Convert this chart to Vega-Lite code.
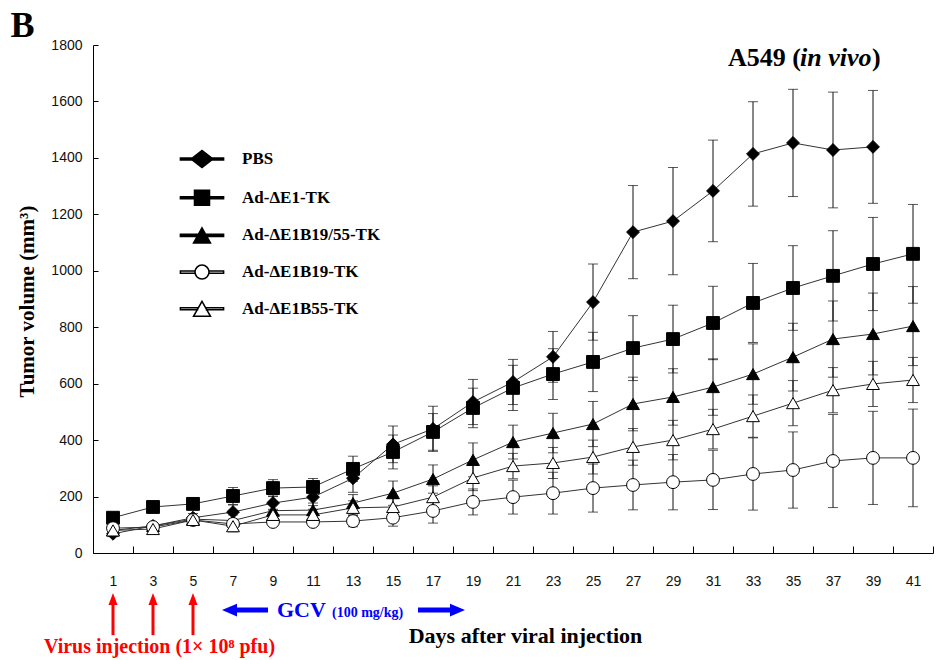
{
  "$schema": "https://vega.github.io/schema/vega-lite/v6.json",
  "width": 840,
  "height": 508,
  "autosize": {"type": "none"},
  "padding": {"left": 93, "top": 45, "right": 4, "bottom": 107},
  "background": "white",
  "config": {
    "view": {"stroke": null},
    "axis": {"grid": false, "domainColor": "black", "tickColor": "black", "tickWidth": 1, "labelFont": "Liberation Sans", "labelFontSize": 14, "labelColor": "#111111",
      "titleFont": "Liberation Serif", "titleFontWeight": "bold", "titleColor": "black", "labelOverlap": false, "labelFlush": false}
  },
  "resolve": {
    "axis": {"x": "independent", "y": "independent"},
    "scale": {"shape": "independent", "fill": "independent", "stroke": "independent"},
    "legend": {"shape": "independent", "fill": "independent", "stroke": "independent"}
  },
  "datasets": {
    "main": [
      {"d":1,"g":"PBS","v":68,"lo":58,"hi":78},{"d":3,"g":"PBS","v":96,"lo":84,"hi":108},{"d":5,"g":"PBS","v":125,"lo":110,"hi":140},{"d":7,"g":"PBS","v":145,"lo":120,"hi":170},{"d":9,"g":"PBS","v":177,"lo":152,"hi":202},{"d":11,"g":"PBS","v":198,"lo":168,"hi":228},{"d":13,"g":"PBS","v":265,"lo":215,"hi":315},{"d":15,"g":"PBS","v":385,"lo":320,"hi":450},{"d":17,"g":"PBS","v":440,"lo":360,"hi":520},{"d":19,"g":"PBS","v":535,"lo":455,"hi":615},{"d":21,"g":"PBS","v":606,"lo":526,"hi":686},{"d":23,"g":"PBS","v":695,"lo":605,"hi":785},{"d":25,"g":"PBS","v":889,"lo":754,"hi":1024},{"d":27,"g":"PBS","v":1137,"lo":972,"hi":1302},{"d":29,"g":"PBS","v":1176,"lo":986,"hi":1366},{"d":31,"g":"PBS","v":1283,"lo":1103,"hi":1463},{"d":33,"g":"PBS","v":1414,"lo":1229,"hi":1599},{"d":35,"g":"PBS","v":1453,"lo":1263,"hi":1643},{"d":37,"g":"PBS","v":1428,"lo":1223,"hi":1633},{"d":39,"g":"PBS","v":1439,"lo":1239,"hi":1639},
      {"d":1,"g":"Ad-ΔE1-TK","v":125,"lo":113,"hi":137},{"d":3,"g":"Ad-ΔE1-TK","v":163,"lo":151,"hi":175},{"d":5,"g":"Ad-ΔE1-TK","v":174,"lo":159,"hi":189},{"d":7,"g":"Ad-ΔE1-TK","v":202,"lo":172,"hi":232},{"d":9,"g":"Ad-ΔE1-TK","v":230,"lo":200,"hi":260},{"d":11,"g":"Ad-ΔE1-TK","v":234,"lo":204,"hi":264},{"d":13,"g":"Ad-ΔE1-TK","v":298,"lo":253,"hi":343},{"d":15,"g":"Ad-ΔE1-TK","v":358,"lo":298,"hi":418},{"d":17,"g":"Ad-ΔE1-TK","v":429,"lo":364,"hi":494},{"d":19,"g":"Ad-ΔE1-TK","v":514,"lo":444,"hi":584},{"d":21,"g":"Ad-ΔE1-TK","v":585,"lo":505,"hi":665},{"d":23,"g":"Ad-ΔE1-TK","v":634,"lo":544,"hi":724},{"d":25,"g":"Ad-ΔE1-TK","v":677,"lo":572,"hi":782},{"d":27,"g":"Ad-ΔE1-TK","v":726,"lo":611,"hi":841},{"d":29,"g":"Ad-ΔE1-TK","v":758,"lo":638,"hi":878},{"d":31,"g":"Ad-ΔE1-TK","v":815,"lo":685,"hi":945},{"d":33,"g":"Ad-ΔE1-TK","v":886,"lo":746,"hi":1026},{"d":35,"g":"Ad-ΔE1-TK","v":939,"lo":789,"hi":1089},{"d":37,"g":"Ad-ΔE1-TK","v":982,"lo":822,"hi":1142},{"d":39,"g":"Ad-ΔE1-TK","v":1024,"lo":859,"hi":1189},{"d":41,"g":"Ad-ΔE1-TK","v":1060,"lo":885,"hi":1235},
      {"d":1,"g":"Ad-ΔE1B19/55-TK","v":80,"lo":70,"hi":90},{"d":3,"g":"Ad-ΔE1B19/55-TK","v":96,"lo":84,"hi":108},{"d":5,"g":"Ad-ΔE1B19/55-TK","v":120,"lo":108,"hi":132},{"d":7,"g":"Ad-ΔE1B19/55-TK","v":115,"lo":95,"hi":135},{"d":9,"g":"Ad-ΔE1B19/55-TK","v":150,"lo":125,"hi":175},{"d":11,"g":"Ad-ΔE1B19/55-TK","v":152,"lo":127,"hi":177},{"d":13,"g":"Ad-ΔE1B19/55-TK","v":177,"lo":147,"hi":207},{"d":15,"g":"Ad-ΔE1B19/55-TK","v":212,"lo":169,"hi":255},{"d":17,"g":"Ad-ΔE1B19/55-TK","v":262,"lo":212,"hi":312},{"d":19,"g":"Ad-ΔE1B19/55-TK","v":330,"lo":270,"hi":390},{"d":21,"g":"Ad-ΔE1B19/55-TK","v":393,"lo":333,"hi":453},{"d":23,"g":"Ad-ΔE1B19/55-TK","v":425,"lo":355,"hi":495},{"d":25,"g":"Ad-ΔE1B19/55-TK","v":457,"lo":377,"hi":537},{"d":27,"g":"Ad-ΔE1B19/55-TK","v":528,"lo":433,"hi":623},{"d":29,"g":"Ad-ΔE1B19/55-TK","v":553,"lo":453,"hi":653},{"d":31,"g":"Ad-ΔE1B19/55-TK","v":588,"lo":488,"hi":688},{"d":33,"g":"Ad-ΔE1B19/55-TK","v":634,"lo":527,"hi":741},{"d":35,"g":"Ad-ΔE1B19/55-TK","v":694,"lo":574,"hi":814},{"d":37,"g":"Ad-ΔE1B19/55-TK","v":758,"lo":623,"hi":893},{"d":39,"g":"Ad-ΔE1B19/55-TK","v":776,"lo":631,"hi":921},{"d":41,"g":"Ad-ΔE1B19/55-TK","v":804,"lo":664,"hi":944},
      {"d":1,"g":"Ad-ΔE1B19-TK","v":88,"lo":78,"hi":98},{"d":3,"g":"Ad-ΔE1B19-TK","v":92,"lo":82,"hi":102},{"d":5,"g":"Ad-ΔE1B19-TK","v":117,"lo":105,"hi":129},{"d":7,"g":"Ad-ΔE1B19-TK","v":103,"lo":91,"hi":115},{"d":9,"g":"Ad-ΔE1B19-TK","v":110,"lo":95,"hi":125},{"d":11,"g":"Ad-ΔE1B19-TK","v":110,"lo":95,"hi":125},{"d":13,"g":"Ad-ΔE1B19-TK","v":113,"lo":93,"hi":133},{"d":15,"g":"Ad-ΔE1B19-TK","v":125,"lo":95,"hi":155},{"d":17,"g":"Ad-ΔE1B19-TK","v":149,"lo":106,"hi":192},{"d":19,"g":"Ad-ΔE1B19-TK","v":181,"lo":135,"hi":227},{"d":21,"g":"Ad-ΔE1B19-TK","v":198,"lo":138,"hi":258},{"d":23,"g":"Ad-ΔE1B19-TK","v":212,"lo":138,"hi":286},{"d":25,"g":"Ad-ΔE1B19-TK","v":230,"lo":145,"hi":315},{"d":27,"g":"Ad-ΔE1B19-TK","v":241,"lo":153,"hi":329},{"d":29,"g":"Ad-ΔE1B19-TK","v":251,"lo":153,"hi":349},{"d":31,"g":"Ad-ΔE1B19-TK","v":259,"lo":154,"hi":364},{"d":33,"g":"Ad-ΔE1B19-TK","v":280,"lo":152,"hi":408},{"d":35,"g":"Ad-ΔE1B19-TK","v":294,"lo":159,"hi":429},{"d":37,"g":"Ad-ΔE1B19-TK","v":326,"lo":161,"hi":491},{"d":39,"g":"Ad-ΔE1B19-TK","v":337,"lo":172,"hi":502},{"d":41,"g":"Ad-ΔE1B19-TK","v":337,"lo":164,"hi":510},
      {"d":1,"g":"Ad-ΔE1B55-TK","v":80,"lo":70,"hi":90},{"d":3,"g":"Ad-ΔE1B55-TK","v":85,"lo":70,"hi":100},{"d":5,"g":"Ad-ΔE1B55-TK","v":117,"lo":105,"hi":129},{"d":7,"g":"Ad-ΔE1B55-TK","v":95,"lo":75,"hi":115},{"d":9,"g":"Ad-ΔE1B55-TK","v":135,"lo":115,"hi":155},{"d":11,"g":"Ad-ΔE1B55-TK","v":135,"lo":115,"hi":155},{"d":13,"g":"Ad-ΔE1B55-TK","v":160,"lo":135,"hi":185},{"d":15,"g":"Ad-ΔE1B55-TK","v":163,"lo":133,"hi":193},{"d":17,"g":"Ad-ΔE1B55-TK","v":198,"lo":158,"hi":238},{"d":19,"g":"Ad-ΔE1B55-TK","v":266,"lo":221,"hi":311},{"d":21,"g":"Ad-ΔE1B55-TK","v":308,"lo":263,"hi":353},{"d":23,"g":"Ad-ΔE1B55-TK","v":319,"lo":264,"hi":374},{"d":25,"g":"Ad-ΔE1B55-TK","v":340,"lo":280,"hi":400},{"d":27,"g":"Ad-ΔE1B55-TK","v":376,"lo":311,"hi":441},{"d":29,"g":"Ad-ΔE1B55-TK","v":400,"lo":330,"hi":470},{"d":31,"g":"Ad-ΔE1B55-TK","v":439,"lo":369,"hi":509},{"d":33,"g":"Ad-ΔE1B55-TK","v":485,"lo":410,"hi":560},{"d":35,"g":"Ad-ΔE1B55-TK","v":531,"lo":451,"hi":611},{"d":37,"g":"Ad-ΔE1B55-TK","v":577,"lo":497,"hi":657},{"d":39,"g":"Ad-ΔE1B55-TK","v":599,"lo":519,"hi":679},{"d":41,"g":"Ad-ΔE1B55-TK","v":613,"lo":533,"hi":693}
    ],
    "injections": [{"d":1},{"d":3},{"d":5}],
    "one": [{}]
  },
  "layer": [
    {
      "data": {"name": "main"},
      "mark": {"type": "line", "color": "#333333", "strokeWidth": 1},
      "encoding": {
        "x": {"field": "d", "type": "quantitative", "scale": {"domain": [0, 42], "nice": false, "zero": false},
          "axis": {"orient": "bottom", "values": [1,3,5,7,9,11,13,15,17,19,21,23,25,27,29,31,33,35,37,39,41],
            "ticks": false, "tickSize": 0, "labelPadding": 21, "labelOverlap": false,
            "title": "Days after viral injection", "titleFontSize": 22, "titleX": 432, "titleY": 89, "titleBaseline": "alphabetic"}},
        "y": {"field": "v", "type": "quantitative", "scale": {"domain": [0, 1800], "nice": false},
          "axis": {"orient": "left", "values": [0,200,400,600,800,1000,1200,1400,1600,1800], "format": "d",
            "ticks": false, "tickSize": 0, "labelPadding": 11,
            "title": "Tumor volume (mm³)", "titleFontSize": 21, "titleX": -60, "titleY": 256, "titleBaseline": "alphabetic"}},
        "detail": {"field": "g"}
      }
    },
    {
      "data": {"name": "main"},
      "transform": [{"filter": "datum.d < 0"}],
      "mark": {"type": "point"},
      "encoding": {
        "x": {"field": "d", "type": "quantitative",
          "axis": {"orient": "top", "offset": -508, "values": [0,2,4,6,8,10,12,14,16,18,20,22,24,26,28,30,32,34,36,38,40,42],
            "ticks": true, "tickSize": 7, "labels": false, "domain": false, "title": null}},
        "y": {"field": "v", "type": "quantitative",
          "axis": {"orient": "right", "offset": -840, "values": [0,200,400,600,800,1000,1200,1400,1600,1800],
            "ticks": true, "tickSize": 5, "labels": false, "domain": false, "title": null}}
      }
    },
    {
      "data": {"name": "main"},
      "mark": {"type": "errorbar", "ticks": {"size": 10, "thickness": 1, "color": "#111111"}, "rule": {"color": "#111111", "strokeWidth": 1}},
      "encoding": {
        "x": {"field": "d", "type": "quantitative", "axis": null},
        "y": {"field": "lo", "type": "quantitative", "axis": null},
        "y2": {"field": "hi"}
      }
    },
    {
      "data": {"name": "main"},
      "mark": {"type": "point", "filled": true, "stroke": "black", "strokeWidth": 1, "opacity": 1, "size": 165},
      "encoding": {
        "x": {"field": "d", "type": "quantitative", "axis": null},
        "y": {"field": "v", "type": "quantitative", "axis": null},
        "shape": {"field": "g", "type": "nominal",
          "scale": {"domain": ["PBS","Ad-ΔE1-TK","Ad-ΔE1B19/55-TK","Ad-ΔE1B19-TK","Ad-ΔE1B55-TK"], "range": ["diamond","square","triangle-up","circle","triangle-up"]},
          "legend": null},
        "fill": {"field": "g", "type": "nominal",
          "scale": {"domain": ["PBS","Ad-ΔE1-TK","Ad-ΔE1B19/55-TK","Ad-ΔE1B19-TK","Ad-ΔE1B55-TK"], "range": ["black","black","black","white","white"]},
          "legend": null}
      }
    },
    {
      "data": {"name": "main"},
      "transform": [{"filter": "datum.d < 0"}],
      "mark": {"type": "point", "filled": true, "strokeWidth": 1.5, "opacity": 1},
      "encoding": {
        "x": {"field": "d", "type": "quantitative", "axis": null},
        "y": {"field": "v", "type": "quantitative", "axis": null},
        "shape": {"field": "g", "type": "nominal",
          "scale": {"domain": ["PBS","Ad-ΔE1-TK","Ad-ΔE1B19/55-TK","Ad-ΔE1B19-TK","Ad-ΔE1B55-TK"],
            "range": ["M-2.7,-0.13H-1.3V0.13H-2.7Z M1.3,-0.13H2.7V0.13H1.3Z M-1.375,0L0,-1.06L1.375,0L0,1.06Z",
                      "M-2.7,-0.13H-0.94V0.13H-2.7Z M0.94,-0.13H2.7V0.13H0.94Z M-0.94,-0.94H0.94V0.94H-0.94Z",
                      "M-2.7,-0.13H-0.55V0.13H-2.7Z M0.55,-0.13H2.7V0.13H0.55Z M0,-0.94L1.06,0.94L-1.06,0.94Z",
                      "M-2.7,-0.13H-0.875V0.13H-2.7Z M0.875,-0.13H2.7V0.13H0.875Z M-0.875,0A0.875,0.875,0,1,1,0.875,0A0.875,0.875,0,1,1,-0.875,0Z",
                      "M-2.7,-0.13H-0.55V0.13H-2.7Z M0.55,-0.13H2.7V0.13H0.55Z M0,-0.94L1.06,0.94L-1.06,0.94Z"]},
          "legend": {"orient": "none", "legendX": 100, "legendY": 105, "direction": "vertical", "title": null, "padding": 0,
            "labelFont": "Liberation Serif", "labelFontWeight": "bold", "labelFontSize": 17, "labelColor": "black", "labelOffset": 31,
            "rowPadding": 15.7, "symbolSize": 256, "symbolStrokeWidth": 1.5, "symbolOpacity": 1}},
        "fill": {"field": "g", "type": "nominal",
          "scale": {"domain": ["PBS","Ad-ΔE1-TK","Ad-ΔE1B19/55-TK","Ad-ΔE1B19-TK","Ad-ΔE1B55-TK"], "range": ["black","black","black","white","white"]}},
        "stroke": {"field": "g", "type": "nominal",
          "scale": {"domain": ["PBS","Ad-ΔE1-TK","Ad-ΔE1B19/55-TK","Ad-ΔE1B19-TK","Ad-ΔE1B55-TK"], "range": ["black","black","black","black","black"]}}
      }
    },
    {
      "data": {"name": "injections"},
      "mark": {"type": "rule", "color": "#ff0000", "strokeWidth": 3},
      "encoding": {
        "x": {"field": "d", "type": "quantitative", "axis": null},
        "y": {"datum": -291, "type": "quantitative", "axis": null},
        "y2": {"datum": -184}
      }
    },
    {
      "data": {"name": "injections"},
      "mark": {"type": "point", "shape": "M0,-1.33L1,1.33L-1,1.33Z", "size": 81, "filled": true, "color": "#ff0000", "opacity": 1},
      "encoding": {
        "x": {"field": "d", "type": "quantitative", "axis": null},
        "y": {"datum": -163, "type": "quantitative", "axis": null}
      }
    },
    {
      "data": {"name": "one"},
      "mark": {"type": "rule", "color": "#0000ff", "strokeWidth": 5},
      "encoding": {
        "x": {"datum": 7.2, "type": "quantitative", "axis": null},
        "x2": {"datum": 8.75},
        "y": {"datum": -202, "type": "quantitative", "axis": null}
      }
    },
    {
      "data": {"name": "one"},
      "mark": {"type": "rule", "color": "#0000ff", "strokeWidth": 5},
      "encoding": {
        "x": {"datum": 16.25, "type": "quantitative", "axis": null},
        "x2": {"datum": 17.85},
        "y": {"datum": -202, "type": "quantitative", "axis": null}
      }
    },
    {
      "data": {"name": "one"},
      "mark": {"type": "point", "shape": "M-1,0L1,-0.85L1,0.85Z", "size": 225, "filled": true, "color": "#0000ff", "opacity": 1},
      "encoding": {
        "x": {"datum": 6.825, "type": "quantitative", "axis": null},
        "y": {"datum": -202, "type": "quantitative", "axis": null}
      }
    },
    {
      "data": {"name": "one"},
      "mark": {"type": "point", "shape": "M1,0L-1,-0.85L-1,0.85Z", "size": 225, "filled": true, "color": "#0000ff", "opacity": 1},
      "encoding": {
        "x": {"datum": 18.225, "type": "quantitative", "axis": null},
        "y": {"datum": -202, "type": "quantitative", "axis": null}
      }
    },
    {
      "data": {"name": "one"},
      "mark": {"type": "text", "text": "GCV", "font": "Liberation Serif", "fontWeight": "bold", "fontSize": 22, "color": "#0000ff", "align": "left", "baseline": "alphabetic"},
      "encoding": {
        "x": {"datum": 9.2, "type": "quantitative", "axis": null},
        "y": {"datum": -227, "type": "quantitative", "axis": null}
      }
    },
    {
      "data": {"name": "one"},
      "mark": {"type": "text", "text": "(100 mg/kg)", "font": "Liberation Serif", "fontWeight": "bold", "fontSize": 14, "color": "#0000ff", "align": "left", "baseline": "alphabetic"},
      "encoding": {
        "x": {"datum": 11.95, "type": "quantitative", "axis": null},
        "y": {"datum": -227, "type": "quantitative", "axis": null}
      }
    },
    {
      "data": {"name": "one"},
      "mark": {"type": "text", "text": "Virus injection (1× 10⁸ pfu)", "font": "Liberation Serif", "fontWeight": "bold", "fontSize": 20, "color": "#ff0000", "align": "center", "baseline": "alphabetic"},
      "encoding": {
        "x": {"datum": 3.325, "type": "quantitative", "axis": null},
        "y": {"datum": -354, "type": "quantitative", "axis": null}
      }
    },
    {
      "data": {"name": "one"},
      "mark": {"type": "text", "text": "A549 (", "font": "Liberation Serif", "fontWeight": "bold", "fontSize": 26, "color": "black", "align": "left", "baseline": "alphabetic"},
      "encoding": {
        "x": {"datum": 31.75, "type": "quantitative", "axis": null},
        "y": {"datum": 1726, "type": "quantitative", "axis": null}
      }
    },
    {
      "data": {"name": "one"},
      "mark": {"type": "text", "text": "in vivo", "font": "Liberation Serif", "fontWeight": "bold", "fontStyle": "italic", "fontSize": 26, "color": "black", "align": "left", "baseline": "alphabetic"},
      "encoding": {
        "x": {"datum": 35.35, "type": "quantitative", "axis": null},
        "y": {"datum": 1726, "type": "quantitative", "axis": null}
      }
    },
    {
      "data": {"name": "one"},
      "mark": {"type": "text", "text": ")", "font": "Liberation Serif", "fontWeight": "bold", "fontSize": 26, "color": "black", "align": "left", "baseline": "alphabetic"},
      "encoding": {
        "x": {"datum": 38.95, "type": "quantitative", "axis": null},
        "y": {"datum": 1726, "type": "quantitative", "axis": null}
      }
    },
    {
      "data": {"name": "one"},
      "mark": {"type": "text", "text": "B", "font": "Liberation Serif", "fontWeight": "bold", "fontSize": 36, "color": "black", "align": "center", "baseline": "alphabetic"},
      "encoding": {
        "x": {"datum": -3.525, "type": "quantitative", "axis": null},
        "y": {"datum": 1828, "type": "quantitative", "axis": null}
      }
    }
  ]
}
